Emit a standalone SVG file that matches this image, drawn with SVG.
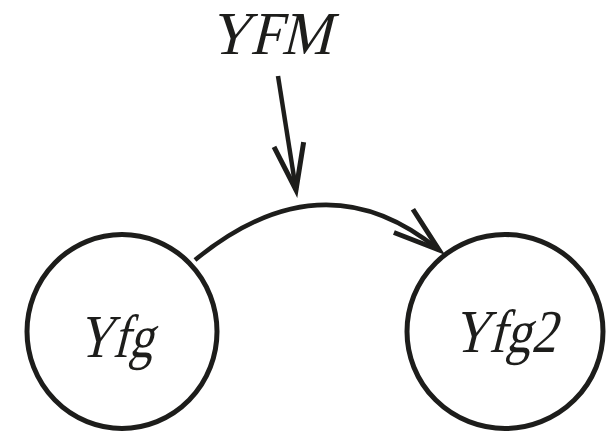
<svg xmlns="http://www.w3.org/2000/svg" width="608" height="433" viewBox="0 0 608 433">
<style>
.node{fill:#fff;stroke:#1d1d1b;stroke-width:5}
.lbl{font-family:'Liberation Serif','Times New Roman',serif;font-size:61px;fill:#1d1d1b;text-anchor:middle}
.edge{fill:none;stroke:#1d1d1b;stroke-width:4.5}
</style>
<defs>
<marker id="arr" markerUnits="userSpaceOnUse" markerWidth="60" markerHeight="40" viewBox="-50 -20 60 40" refX="0" refY="0" orient="auto" overflow="visible">
<path d="M -46 -15 L 0 0 L -46 15" fill="none" stroke="#1d1d1b" stroke-width="5" stroke-linejoin="miter"/>
</marker>
</defs>
<g id="connectors">
<path class="edge" d="M 195 260 Q 323 155 439 250" marker-end="url(#arr)"/>
<path class="edge" d="M 278 76 L 296 190" marker-end="url(#arr)"/>
</g>
<g id="YFM">
<text class="lbl" transform="translate(270,54) skewX(-14)" x="0" y="0" textLength="122" lengthAdjust="spacingAndGlyphs">YFM</text>
</g>
<g id="Yfg">
<ellipse class="node" cx="122" cy="331.5" rx="95" ry="97"/>
<text class="lbl" transform="translate(115,357) skewX(-14)" x="0" y="0" textLength="76" lengthAdjust="spacingAndGlyphs">Yfg</text>
</g>
<g id="Yfg2">
<ellipse class="node" cx="505" cy="331.5" rx="98" ry="97"/>
<text class="lbl" transform="translate(504,352) skewX(-14)" x="0" y="0" textLength="104" lengthAdjust="spacingAndGlyphs">Yfg2</text>
</g>
</svg>
